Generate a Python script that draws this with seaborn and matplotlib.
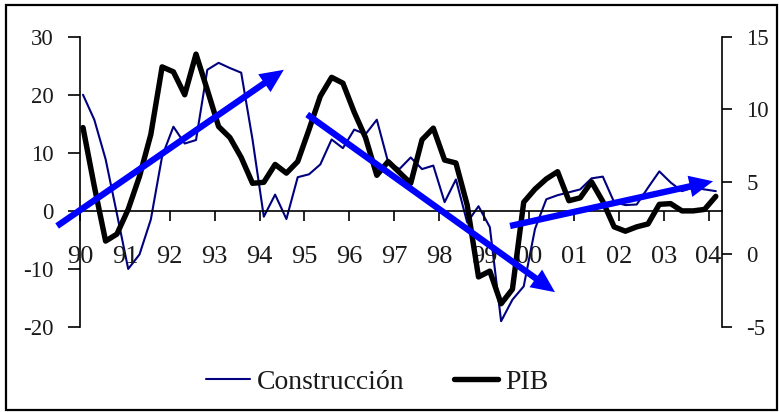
import numpy as np
import pandas as pd
import matplotlib
matplotlib.use("Agg")
import matplotlib.pyplot as plt
import seaborn as sns
from matplotlib.patches import Rectangle

# ---- data (quarterly growth rates, 1990Q1 - 2004Q1) ----
construccion = [20.0, 15.7, 8.9, -0.5, -10.0, -7.5, -1.5, 9.4, 14.5, 11.6, 12.2,
                24.3, 25.5, 24.6, 23.8, 12.3, -1.0, 2.8, -1.4, 5.8, 6.3, 8.0,
                12.3, 10.8, 14.0, 13.2, 15.7, 8.4, 7.2, 9.2, 7.2, 7.8, 1.5, 5.4,
                -2.0, 0.8, -2.8, -19.0, -15.3, -13.0, -3.1, 2.0, 2.7, 3.2, 3.7,
                5.6, 5.9, 1.5, 1.0, 1.1, 4.0, 6.8, 4.9, 3.4, 4.0, 3.7, 3.4]
pib = [8.74, 4.69, 0.92, 1.40, 3.11, 5.38, 8.26, 12.92, 12.58, 11.00, 13.8,
       11.34, 8.81, 8.05, 6.68, 4.90, 4.97, 6.2, 5.6, 6.4, 8.6, 10.9,
       12.2, 11.8, 9.8, 8.05, 5.45, 6.4, 5.65, 4.9, 7.9, 8.7, 6.5, 6.3,
       3.4, -1.55, -1.15, -3.4, -2.4, 3.6, 4.5, 5.2, 5.7, 3.7, 3.9,
       5.0, 3.65, 1.9, 1.6, 1.9, 2.1, 3.45, 3.5, 3.0, 3.0, 3.1, 4.0]
years = list(range(1990, 2005))
year_labels = ["90", "91", "92", "93", "94", "95", "96", "97", "98", "99",
               "00", "01", "02", "03", "04"]
left_ticks = [-20, -10, 0, 10, 20, 30]
right_ticks = [-5, 0, 5, 10, 15]
series_names = ["Construcción", "PIB"]

# trend arrows (annotations, in left-axis units)
arrow_starts = [(1989.49, -2.6), (1995.06, 16.6), (1999.58, -2.6)]
arrow_ends = [(1994.54, 24.3), (2000.58, -14.0), (2004.10, 5.1)]

n = len(construccion)
xpos = 1990.067 + np.arange(n) * 0.2517
df = pd.DataFrame({"x": xpos, series_names[0]: construccion, series_names[1]: pib})

sns.set_theme(style="white")
plt.rcParams["font.family"] = ["Liberation Serif", "DejaVu Serif"]
plt.rcParams["axes.unicode_minus"] = False

W, H = 779, 412
fig = plt.figure(figsize=(W / 100, H / 100), dpi=100)
ax = fig.add_axes([80 / W, 85 / H, 642 / W, 290.3 / H])
ax2 = ax.twinx()

sns.lineplot(data=df, x="x", y=series_names[0], ax=ax, color="#000080",
             linewidth=1.5, legend=False)
sns.lineplot(data=df, x="x", y=series_names[1], ax=ax2, color="black",
             linewidth=3.9, legend=False)

ax.set_xlim(1990, 2004.3)
ax.set_ylim(-20, 30)
ax2.set_ylim(-5, 15)
ax.set_xlabel("")
ax.set_ylabel("")
ax2.set_ylabel("")
ax2.set_xlabel("")

tick_col = "#1a1a1a"
# left axis
for s in ["top", "right", "bottom"]:
    ax.spines[s].set_visible(False)
ax.spines["left"].set_color("black")
ax.spines["left"].set_linewidth(1.2)
ax.set_yticks(left_ticks)
ax.tick_params(axis="y", left=True, direction="out", length=9, width=1.2,
               pad=10, labelsize=16.5, labelcolor=tick_col, color="black")
ax.tick_params(axis="x", bottom=False, labelbottom=False)

# right axis + x axis at zero
for s in ["top", "left"]:
    ax2.spines[s].set_visible(False)
ax2.spines["right"].set_color("black")
ax2.spines["right"].set_linewidth(1.2)
ax2.spines["bottom"].set_visible(True)
ax2.spines["bottom"].set_position(("axes", 0.4))
ax2.spines["bottom"].set_color("black")
ax2.spines["bottom"].set_linewidth(1.2)
ax2.set_yticks(right_ticks)
ax2.tick_params(axis="y", right=True, direction="out", length=7.5, width=1.2,
                pad=10, labelsize=16.5, labelcolor=tick_col, color="black")
ax2.xaxis.set_visible(True)
ax2.set_xticks(years)
ax2.set_xticklabels(year_labels)
ax2.tick_params(axis="x", bottom=True, labelbottom=True, direction="out",
                length=7, width=1.2, pad=18, labelsize=19,
                labelcolor=tick_col, color="black")

# arrows
for s, e in zip(arrow_starts, arrow_ends):
    ax2.annotate("", xy=e, xytext=s, xycoords=ax.transData,
                 textcoords=ax.transData, annotation_clip=False,
                 arrowprops=dict(arrowstyle="simple,head_length=0.85,head_width=0.78,tail_width=0.23",
                                 mutation_scale=20, facecolor="#0000ff",
                                 edgecolor="none", lw=0,
                                 shrinkA=0, shrinkB=0))

# legend
h1 = ax.get_lines()[0]
h2 = ax2.get_lines()[0]
fig.legend([h1, h2], series_names, loc="center", bbox_to_anchor=(0.484, 0.072),
           ncol=2, frameon=False, fontsize=20, handlelength=1.6,
           handletextpad=0.25, columnspacing=1.75, labelcolor=tick_col)

# outer frame
fig.add_artist(Rectangle((6 / W, 2 / H), 771 / W, 405 / H, transform=fig.transFigure,
                         fill=False, edgecolor="black", linewidth=1.6))

fig.savefig("out.png", dpi=100)
